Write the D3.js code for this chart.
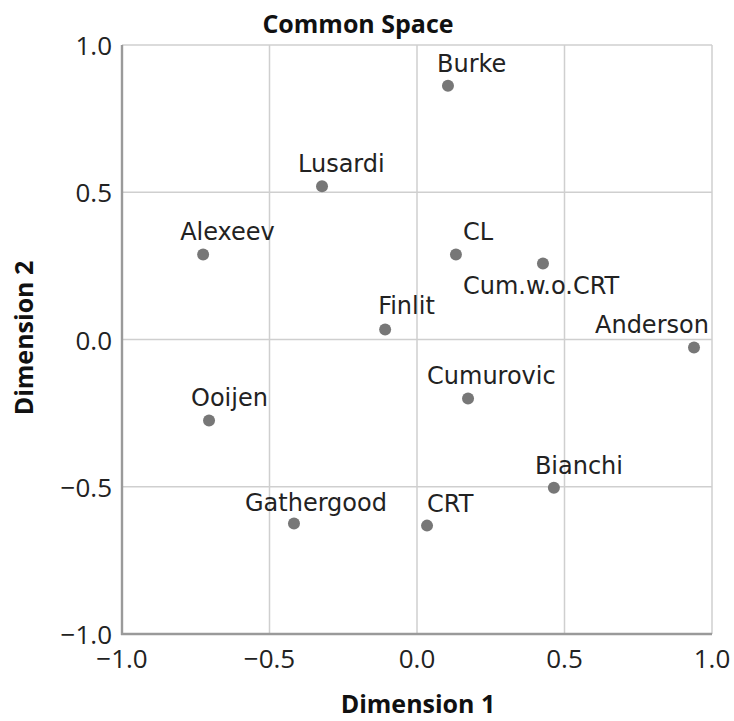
<!DOCTYPE html>
<html>
<head>
<meta charset="utf-8">
<script src="https://cdn.jsdelivr.net/npm/d3@7"></script>
<style>
body { margin: 0; background: #fff; }
.gridLines { stroke: #cfcfcf; stroke-width: 1.5; }
.axisLine { stroke: #9a9a9a; stroke-width: 2.4; }
.tickLabel { font-family: "Open Sans", sans-serif; font-size: 26px; fill: #222; }
.axisTitle { font-family: "Open Sans", sans-serif; font-weight: bold; font-size: 25px; fill: #111; }
.pointLabel { font-family: "DejaVu Sans", sans-serif; font-size: 24px; fill: #222; }
.points { fill: #777; }
</style>
</head>
<body>
<script>
(function(){

//data
var names = ["Burke", "Lusardi", "Alexeev", "CL", "Cum.w.o.CRT", "Finlit", "Anderson", "Cumurovic", "Ooijen", "Bianchi", "Gathergood", "CRT"];
var dim1 = [0.105, -0.322, -0.725, 0.132, 0.427, -0.108, 0.939, 0.173, -0.705, 0.464, -0.417, 0.034];
var dim2 = [0.862, 0.520, 0.289, 0.289, 0.258, 0.034, -0.027, -0.200, -0.275, -0.503, -0.625, -0.632];
var tickValues = [-1.0, -0.5, 0.0, 0.5, 1.0];

//label placement relative to each point (layout only)
var labelDx = [-11, -24, -23, 7, -80, -7, -99, -41, -18, -19, -49, 0];
var labelDy = [-14, -14, -14, -14, 30, -15, -14, -14, -14, -14, -13, -14];

var width = 734,
    height = 721,
    left = 122, right = 712, top = 45, bottom = 634;

var svg = d3.select("body")
    .append("svg")
    .attr("width", width)
    .attr("height", height);

var x = d3.scaleLinear().domain([-1, 1]).range([left, right]);
var y = d3.scaleLinear().domain([-1, 1]).range([bottom, top]);

var fmt = function(d){ return d3.format(".1f")(d).replace("-", "\u2212"); };

//grid lines
svg.selectAll(".vGrid")
    .data(tickValues)
    .enter()
    .append("line")
    .attr("class", "gridLines")
    .attr("x1", function(d){ return x(d); })
    .attr("x2", function(d){ return x(d); })
    .attr("y1", top)
    .attr("y2", bottom);

svg.selectAll(".hGrid")
    .data(tickValues)
    .enter()
    .append("line")
    .attr("class", "gridLines")
    .attr("x1", left)
    .attr("x2", right)
    .attr("y1", function(d){ return y(d); })
    .attr("y2", function(d){ return y(d); });

//axis lines
svg.append("line").attr("class", "axisLine")
    .attr("x1", left).attr("x2", left).attr("y1", top).attr("y2", bottom + 1);
svg.append("line").attr("class", "axisLine")
    .attr("x1", left - 1).attr("x2", right).attr("y1", bottom).attr("y2", bottom);

//tick labels
svg.selectAll(".xTick")
    .data(tickValues)
    .enter()
    .append("text")
    .attr("class", "tickLabel")
    .attr("x", function(d){ return x(d); })
    .attr("y", bottom + 34)
    .attr("text-anchor", "middle")
    .text(fmt);

svg.selectAll(".yTick")
    .data(tickValues)
    .enter()
    .append("text")
    .attr("class", "tickLabel")
    .attr("x", left - 10)
    .attr("y", function(d){ return y(d) + 10; })
    .attr("text-anchor", "end")
    .text(fmt);

//titles
svg.append("text").attr("class", "axisTitle")
    .attr("x", 358).attr("y", 33)
    .attr("text-anchor", "middle")
    .text("Common Space");

svg.append("text").attr("class", "axisTitle")
    .attr("x", 418).attr("y", 713)
    .attr("text-anchor", "middle")
    .text("Dimension 1");

svg.append("text").attr("class", "axisTitle")
    .attr("transform", "translate(33," + 338 + ") rotate(-90)")
    .attr("text-anchor", "middle")
    .text("Dimension 2");

//points
var data = names.map(function(n, i){
    return {name: n, d1: dim1[i], d2: dim2[i], dx: labelDx[i], dy: labelDy[i]};
});

svg.selectAll(".points")
    .data(data)
    .enter()
    .append("circle")
    .attr("class", "points")
    .attr("cx", function(d){ return x(d.d1); })
    .attr("cy", function(d){ return y(d.d2); })
    .attr("r", 6);

svg.selectAll(".pointLabel")
    .data(data)
    .enter()
    .append("text")
    .attr("class", "pointLabel")
    .attr("x", function(d){ return x(d.d1) + d.dx; })
    .attr("y", function(d){ return y(d.d2) + d.dy; })
    .text(function(d){ return d.name; });

})();
</script>
</body>
</html>
